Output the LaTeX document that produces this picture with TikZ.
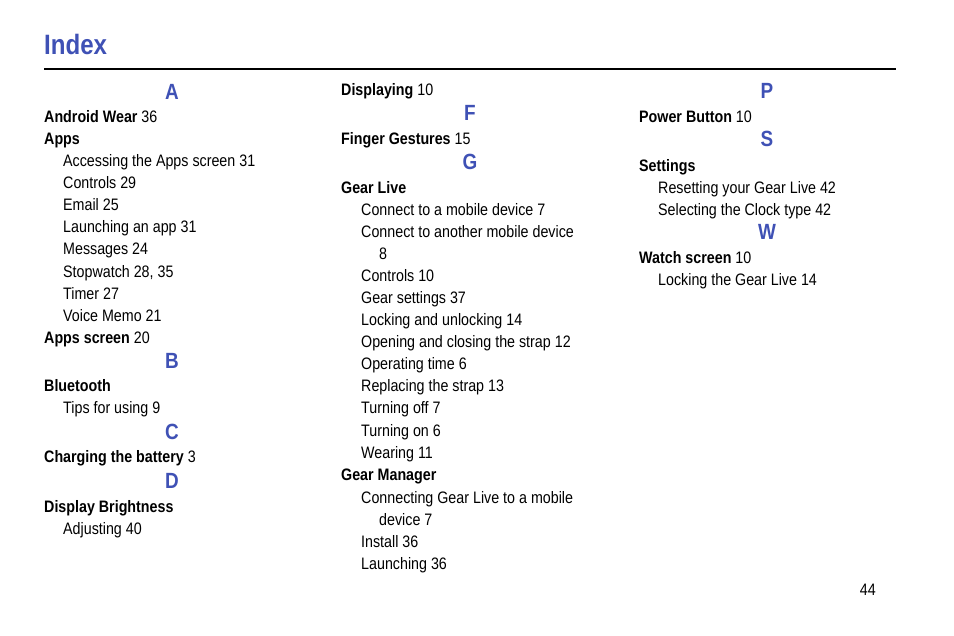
\documentclass[tikz,border=0pt]{standalone}
\usepackage{fontspec}
\setmainfont[FakeStretch=0.86]{Liberation Sans}
\definecolor{idxblue}{HTML}{3F51B5}
\tikzset{
  entry/.style={anchor=base west, inner sep=0pt, font=\fontsize{16.6}{18}\selectfont},
  letter/.style={anchor=base, inner sep=0pt, text=idxblue, font=\fontsize{22}{24}\selectfont\bfseries},
}
\begin{document}
\begin{tikzpicture}[x=1pt,y=-1pt]
    \useasboundingbox (0,0) rectangle (954,636);

    \node[anchor=base west, inner sep=0pt, text=idxblue, font=\fontsize{28}{30}\selectfont\bfseries] (title) at (44,55) {Index};
    \coordinate (ruleL) at (44,69);
    \coordinate (ruleR) at (896,69);
    \draw[line width=1.2pt] (ruleL) -- (ruleR);

    % letter headings
    \foreach \x/\y/\t [count=\i] in {172/100/A, 172/369/B, 172/440/C, 172/488/D,
        470/121/F, 470/170/G, 767/99/P, 767/147/S, 767/240/W}
        \node[letter] (h\i) at (\x,\y) {\t};

    % entries
    \foreach \x/\y/\t [count=\i] in {
        44/123/{\textbf{Android Wear} 36},
        44/145/{\textbf{Apps}},
        63/167/{Accessing the Apps screen 31},
        63/189/{Controls 29},
        63/211/{Email 25},
        63/233/{Launching an app 31},
        63/255/{Messages 24},
        63/278/{Stopwatch 28, 35},
        63/300/{Timer 27},
        63/322/{Voice Memo 21},
        44/344/{\textbf{Apps screen} 20},
        44/392/{\textbf{Bluetooth}},
        63/414/{Tips for using 9},
        44/463/{\textbf{Charging the battery} 3},
        44/512/{\textbf{Display Brightness}},
        63/534/{Adjusting 40},
        341/96/{\textbf{Displaying} 10},
        341/145/{\textbf{Finger Gestures} 15},
        341/194/{\textbf{Gear Live}},
        361/216/{Connect to a mobile device 7},
        361/238/{Connect to another mobile device},
        379/260/{8},
        361/282/{Controls 10},
        361/304/{Gear settings 37},
        361/326/{Locking and unlocking 14},
        361/348/{Opening and closing the strap 12},
        361/370/{Operating time 6},
        361/392/{Replacing the strap 13},
        361/414/{Turning off 7},
        361/437/{Turning on 6},
        361/459/{Wearing 11},
        341/481/{\textbf{Gear Manager}},
        361/503/{Connecting Gear Live to a mobile},
        379/525/{device 7},
        361/547/{Install 36},
        361/569/{Launching 36},
        639/123/{\textbf{Power Button} 10},
        639/172/{\textbf{Settings}},
        658/194/{Resetting your Gear Live 42},
        658/216/{Selecting the Clock type 42},
        639/264/{\textbf{Watch screen} 10},
        658/286/{Locking the Gear Live 14}}
        \node[entry] (e\i) at (\x,\y) {\t};

    \node[entry, anchor=base east] (page) at (876,595) {44};
\end{tikzpicture}
\end{document}
